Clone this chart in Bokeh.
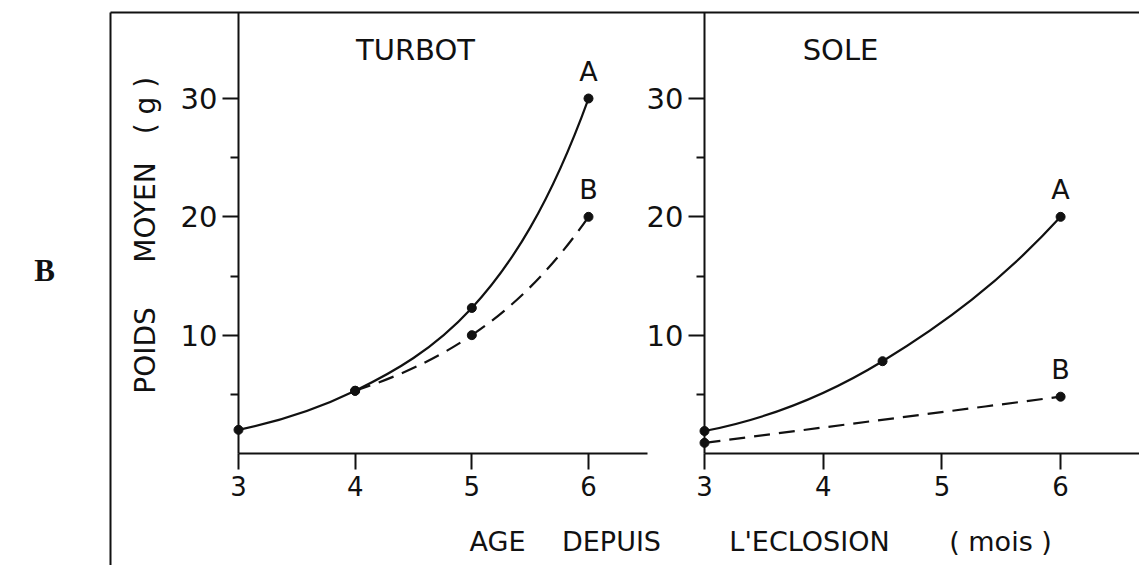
import math
from bokeh.plotting import figure
from bokeh.models import Range1d, LinearAxis, FixedTicker, Label, ColumnDataSource
from bokeh.embed import file_html
from bokeh.resources import INLINE

# ---------------- data ----------------
turbot_age_A = [3, 4, 5, 6]
turbot_weight_A = [2.0, 5.3, 12.3, 30.0]
turbot_age_B = [4, 5, 6]
turbot_weight_B = [5.3, 10.0, 20.0]

sole_age_A = [3, 4.5, 6]
sole_weight_A = [1.9, 7.8, 20.0]
sole_age_B = [3, 6]
sole_weight_B = [0.9, 4.8]

x_ticks = [3, 4, 5, 6]
y_ticks = [10, 20, 30]
y_minor_ticks = [5, 15, 25]

panel_titles = ["TURBOT", "SOLE"]
series_names = ["A", "B"]
x_title_words = ["AGE", "DEPUIS", "L'ECLOSION", "( mois )"]
y_title_words = ["POIDS", "MOYEN", "( g )"]
figure_letter = "B"

# ---------------- layout (page pixels) ----------------
W, H = 1139, 565
X3_L, KX_L = 238.0, 116.67   # turbot panel: x=3 position, px per month
X3_R, KX_R = 704.0, 118.7    # sole panel
Y0, KY = 453.0, 11.833       # y=0 position, px per gram

def tx(px):
    return 3 + (px - X3_L) / KX_L

def sx(px):
    return 3 + (px - X3_R) / KX_R

def yy(py):
    return (Y0 - py) / KY

FONT = "DejaVu Sans"
INK = "#111111"

p = figure(width=W, height=H, output_backend="svg", toolbar_location=None,
           x_range=Range1d(tx(0), tx(W)), y_range=Range1d(yy(H), yy(0)),
           x_axis_type=None, y_axis_type=None, min_border=0)
p.extra_x_ranges = {"sole": Range1d(sx(0), sx(W))}
p.outline_line_color = None
p.background_fill_color = "white"
p.border_fill_color = "white"


def style_axis(ax, label_size, standoff, tick_out):
    ax.axis_line_width = 2
    ax.axis_line_color = INK
    ax.major_tick_line_width = 2
    ax.major_tick_line_color = INK
    ax.minor_tick_line_width = 2
    ax.minor_tick_line_color = INK
    ax.major_tick_in = 0
    ax.major_tick_out = tick_out
    ax.minor_tick_in = 0
    ax.minor_tick_out = 8
    ax.major_label_standoff = standoff
    ax.major_label_text_font = FONT
    ax.major_label_text_font_size = label_size
    ax.major_label_text_color = INK
    return ax

top_y = yy(12)

# outer frame lines (left and top)
frame_left = LinearAxis(fixed_location=tx(110), bounds=(yy(H), top_y),
                        ticker=FixedTicker(ticks=[]), axis_line_width=2,
                        axis_line_color=INK, major_label_text_font_size="0px")
p.add_layout(frame_left, "left")
frame_top = LinearAxis(fixed_location=top_y, bounds=(tx(110), tx(W)),
                       ticker=FixedTicker(ticks=[]), axis_line_width=2,
                       axis_line_color=INK, major_label_text_font_size="0px")
p.add_layout(frame_top, "above")

# panel axes
for rng, xend in ((None, tx(647)), ("sole", sx(W))):
    kw = {} if rng is None else {"x_range_name": rng}
    ya = LinearAxis(fixed_location=3, bounds=(0, top_y),
                    ticker=FixedTicker(ticks=y_ticks, minor_ticks=y_minor_ticks), **kw)
    style_axis(ya, "29px", 5, 16)
    p.add_layout(ya, "left")
    xa = LinearAxis(fixed_location=0, bounds=(3, xend),
                    ticker=FixedTicker(ticks=x_ticks), **kw)
    style_axis(xa, "26px", 6, 16)
    p.add_layout(xa, "below")


def bezier_segments(xs, ys):
    """Smooth growth curve through the points (tangents from log-slopes)."""
    n = len(xs)
    sec = [(ys[i + 1] - ys[i]) / (xs[i + 1] - xs[i]) for i in range(n - 1)]
    if n == 2:
        m = [sec[0], sec[0]]
    else:
        ln = [math.log(v) for v in ys]
        lsec = [(ln[i + 1] - ln[i]) / (xs[i + 1] - xs[i]) for i in range(n - 1)]
        L = [0.0] * n
        for i in range(1, n - 1):
            L[i] = (ln[i + 1] - ln[i - 1]) / (xs[i + 1] - xs[i - 1])
        L[0] = 1.5 * lsec[0] - 0.5 * L[1]
        L[-1] = 1.5 * lsec[-1] - 0.5 * L[-2]
        m = [ys[i] * L[i] for i in range(n)]
    seg = {k: [] for k in ("x0", "y0", "x1", "y1", "cx0", "cy0", "cx1", "cy1")}
    for i in range(n - 1):
        h = xs[i + 1] - xs[i]
        seg["x0"].append(xs[i]); seg["y0"].append(ys[i])
        seg["x1"].append(xs[i + 1]); seg["y1"].append(ys[i + 1])
        seg["cx0"].append(xs[i] + h / 3); seg["cy0"].append(ys[i] + m[i] * h / 3)
        seg["cx1"].append(xs[i + 1] - h / 3); seg["cy1"].append(ys[i + 1] - m[i + 1] * h / 3)
    return ColumnDataSource(seg)

series = [
    (turbot_age_A, turbot_weight_A, None, "solid", series_names[0]),
    (turbot_age_B, turbot_weight_B, None, "16 9", series_names[1]),
    (sole_age_A, sole_weight_A, "sole", "solid", series_names[0]),
    (sole_age_B, sole_weight_B, "sole", "16 9", series_names[1]),
]

for xs, ys, rng, dash, name in series:
    kw = {} if rng is None else {"x_range_name": rng}
    p.bezier(x0="x0", y0="y0", x1="x1", y1="y1", cx0="cx0", cy0="cy0",
             cx1="cx1", cy1="cy1", source=bezier_segments(xs, ys),
             line_color=INK, line_width=2.2, line_dash=dash, **kw)
    p.scatter(xs, ys, size=9, fill_color=INK, line_color=INK, **kw)
    p.add_layout(Label(x=xs[-1], y=ys[-1], text=name, y_offset=27,
                       text_align="center", text_baseline="middle",
                       text_font=FONT, text_font_size="27px", text_color=INK, **kw))

# panel titles
p.add_layout(Label(x=tx(415), y=yy(49), text=panel_titles[0], text_align="center",
                   text_baseline="middle", text_font=FONT, text_font_size="29px",
                   text_color=INK))
p.add_layout(Label(x=tx(840), y=yy(49), text=panel_titles[1], text_align="center",
                   text_baseline="middle", text_font=FONT, text_font_size="29px",
                   text_color=INK))

# x title words
for word, px in zip(x_title_words, (497, 611, 809, 1000)):
    p.add_layout(Label(x=tx(px), y=yy(541), text=word, text_align="center",
                       text_baseline="middle", text_font=FONT, text_font_size="27px",
                       text_color=INK))

# y title words (rotated)
for word, py in zip(y_title_words, (350, 212, 105)):
    p.add_layout(Label(x=tx(145), y=yy(py), text=word, angle=math.pi / 2,
                       text_align="center", text_baseline="middle", text_font=FONT,
                       text_font_size="28px", text_color=INK))

# figure letter
p.add_layout(Label(x=tx(44), y=yy(270), text=figure_letter, text_align="center",
                   text_baseline="middle", text_font="Liberation Serif",
                   text_font_style="bold", text_font_size="31px", text_color=INK))

open("out.html", "w").write(file_html(p, INLINE))
